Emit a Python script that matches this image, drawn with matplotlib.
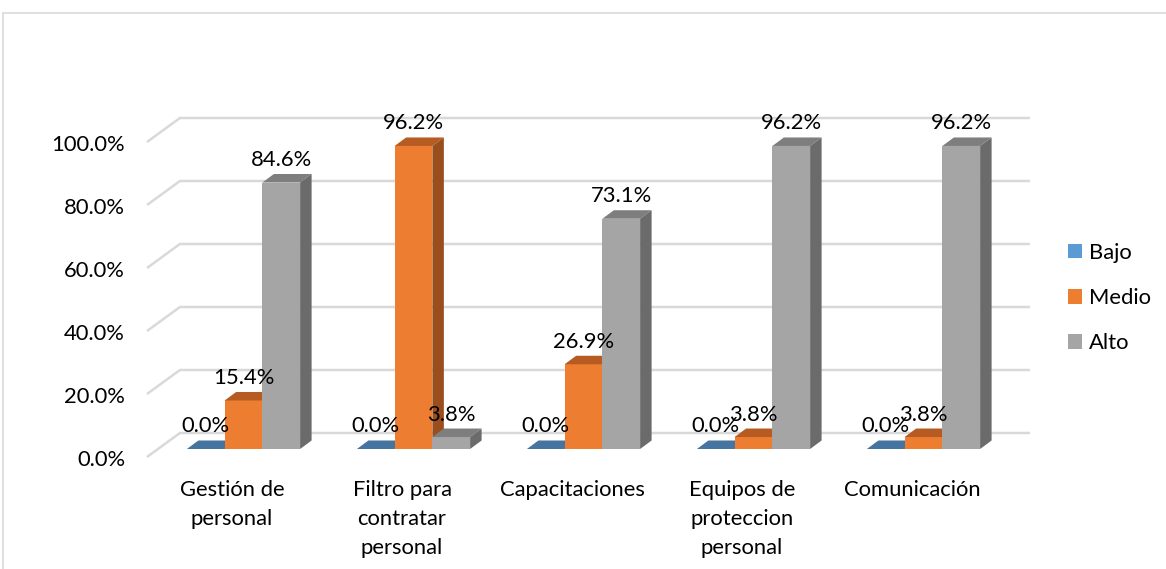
import matplotlib
matplotlib.use("Agg")
import matplotlib.pyplot as plt
from matplotlib.patches import Polygon, Rectangle, Patch
from matplotlib.transforms import offset_copy

plt.rcParams["font.family"] = ["Lato", "DejaVu Sans"]

categories = ["Gestión de\npersonal", "Filtro para\ncontratar\npersonal",
              "Capacitaciones", "Equipos de\nproteccion\npersonal", "Comunicación"]
series = ["Bajo", "Medio", "Alto"]
bajo = [0.0, 0.0, 0.0, 0.0, 0.0]
medio = [15.4, 96.2, 26.9, 3.8, 3.8]
alto = [84.6, 3.8, 73.1, 96.2, 96.2]
yticks = [0, 20, 40, 60, 80, 100]

# front / top / side shading of each series
shades = {
    "Bajo": ("#5b9bd5", "#44749f", "#36608a"),
    "Medio": ("#ed7d31", "#b65b22", "#9b4e1d"),
    "Alto": ("#a5a5a5", "#7e7e7e", "#6b6b6b"),
}

FS = 15.8
W, H, DPI = 1166, 569, 100
fig = plt.figure(figsize=(W / DPI, H / DPI), dpi=DPI)
ax = fig.add_axes([158.5 / W, (H - 449) / H, 850 / W, 315 / H])
ax.set_xlim(-0.5, len(categories) - 0.5)
ax.set_ylim(0, 100)
ax.axis("off")

# depth offsets in data units
bar_dx, bar_dy = 0.0676, 2.7          # depth of one bar
front_dx, front_dy = -0.0676, -2.54   # front edge of the floor / side wall
back_dx, back_dy = 0.126, 5.08        # back wall
bar_w = 0.222
grid_c = "#d9d9d9"

x_left = -0.5
x_right = len(categories) - 0.5
for v in yticks:
    ax.plot([x_left + front_dx, x_left + back_dx, x_right + back_dx],
            [v + front_dy, v + back_dy, v + back_dy],
            color=grid_c, lw=1.8, clip_on=False, zorder=1, solid_capstyle="butt")

tr_tick = offset_copy(ax.transData, fig=fig, x=-22, y=-3, units="dots")
for v in yticks:
    ax.text(x_left + front_dx, v + front_dy, f"{v:.1f}%", transform=tr_tick,
            ha="right", va="center", fontsize=FS, color="#000000")


def draw_bar(xc, val, colors, z):
    x0, x1 = xc - bar_w / 2, xc + bar_w / 2
    front, top, side = colors
    ax.add_patch(Polygon([(x0, 0), (x1, 0), (x1, val), (x0, val)],
                         closed=True, fc=front, ec="none", zorder=z, clip_on=False))
    ax.add_patch(Polygon([(x0, val), (x1, val), (x1 + bar_dx, val + bar_dy),
                          (x0 + bar_dx, val + bar_dy)],
                         closed=True, fc=top, ec="none", zorder=z, clip_on=False))
    ax.add_patch(Polygon([(x1, 0), (x1 + bar_dx, bar_dy), (x1 + bar_dx, val + bar_dy),
                          (x1, val)],
                         closed=True, fc=side, ec="none", zorder=z, clip_on=False))


tr_lbl = offset_copy(ax.transData, fig=fig, x=0, y=14, units="dots")
z = 2
for i in range(len(categories)):
    for k, (name, vals) in enumerate(zip(series, [bajo, medio, alto])):
        xc = i + (k - 1) * bar_w
        draw_bar(xc, vals[i], shades[name], z)
        z += 1

for i in range(len(categories)):
    for k, vals in enumerate([bajo, medio, alto]):
        xc = i + (k - 1) * bar_w
        ax.text(xc, vals[i] + bar_dy, f"{vals[i]:.1f}%", transform=tr_lbl,
                ha="center", va="center", fontsize=FS, color="#000000", zorder=50)

tr_cat = offset_copy(ax.transData, fig=fig, x=0, y=-23, units="dots")
for i, cat in enumerate(categories):
    ax.text(i + front_dx, front_dy, cat, transform=tr_cat, ha="center", va="top",
            fontsize=FS, linespacing=1.56, color="#000000")

handles = [Patch(facecolor=shades[s][0], edgecolor="none") for s in series]
fig.legend(handles, series, loc="center left", bbox_to_anchor=(1068 / W, (H - 298) / H),
           frameon=False, fontsize=FS, handlelength=0.64, handleheight=0.64,
           handletextpad=0.3, labelspacing=1.15, borderpad=0, borderaxespad=0)

fig.add_artist(Rectangle((3 / W, -0.1), 1.2, 0.1 + (H - 13) / H, transform=fig.transFigure,
                         fill=False, ec=grid_c, lw=1.2))

fig.savefig("out.png", dpi=DPI)
